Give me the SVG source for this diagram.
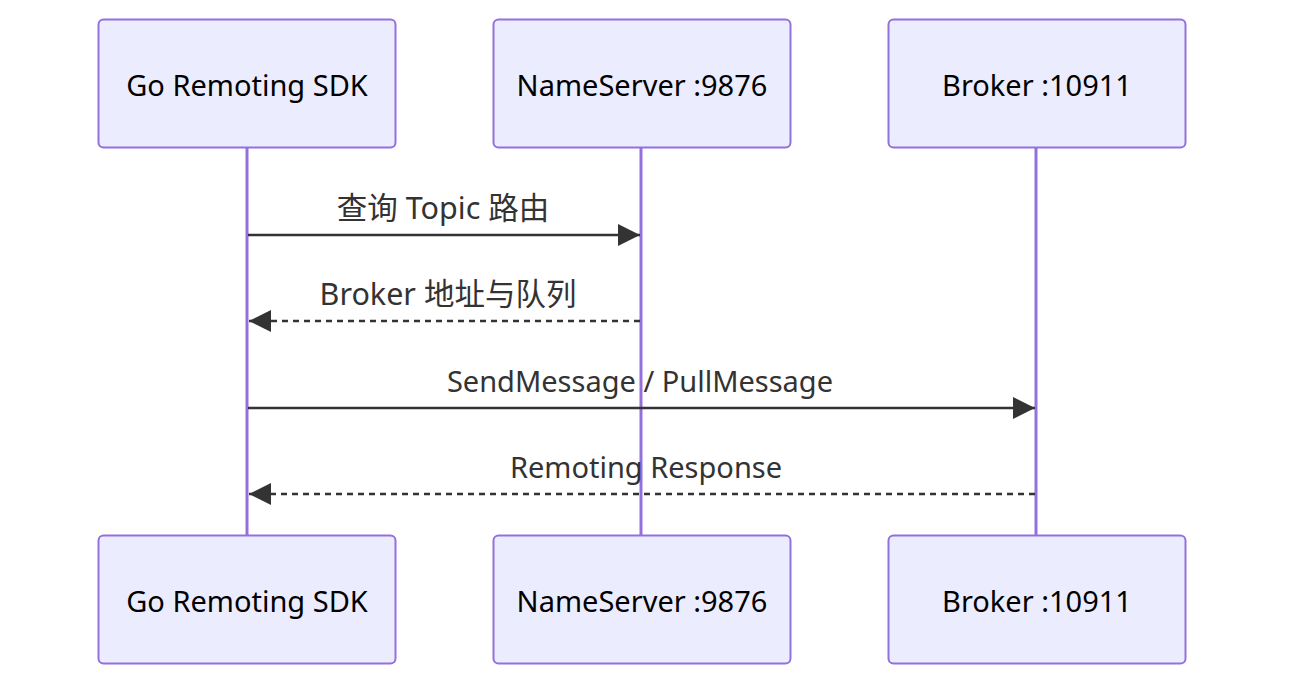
<svg xmlns="http://www.w3.org/2000/svg" width="1300" height="694" viewBox="0 0 1300 694">
<defs>
<style>
.actor{fill:#ECECFF;stroke:#9370DB;stroke-width:2}
.atext{font-family:"Noto Sans","Noto Sans CJK SC",sans-serif;font-size:29px;fill:#000;text-anchor:middle;dominant-baseline:central}
.life{stroke:#9370DB;stroke-width:3}
.msg{stroke:#333;stroke-width:2.5;fill:none}
.dash{stroke-dasharray:6,5}
.mtext{font-family:"Noto Sans","Noto Sans CJK SC",sans-serif;font-size:29px;fill:#333;text-anchor:middle;dominant-baseline:central}
.cjk{font-size:30.5px}
</style>
<marker id="ah" markerWidth="22" markerHeight="22" viewBox="0 0 22 22" refX="22" refY="11" orient="auto" markerUnits="userSpaceOnUse">
<path d="M0,0 L22,11 L0,22 z" fill="#333"/>
</marker>
</defs>
<rect width="1300" height="694" fill="#fff"/>
<g id="lifelines">
<line class="life" x1="247" y1="148" x2="247" y2="535"/>
<line class="life" x1="641" y1="148" x2="641" y2="535"/>
<line class="life" x1="1036" y1="148" x2="1036" y2="535"/>
</g>
<g id="sdk-top"><rect class="actor" x="98.5" y="19.5" width="297" height="128" rx="5"/><text class="atext" x="247" y="84">Go Remoting SDK</text></g>
<g id="ns-top"><rect class="actor" x="493.5" y="19.5" width="297" height="128" rx="5"/><text class="atext" x="642" y="84">NameServer :9876</text></g>
<g id="broker-top"><rect class="actor" x="888.5" y="19.5" width="297" height="128" rx="5"/><text class="atext" x="1037" y="84">Broker :10911</text></g>
<g id="sdk-bottom"><rect class="actor" x="98.5" y="535.5" width="297" height="128" rx="5"/><text class="atext" x="247" y="600">Go Remoting SDK</text></g>
<g id="ns-bottom"><rect class="actor" x="493.5" y="535.5" width="297" height="128" rx="5"/><text class="atext" x="642" y="600">NameServer :9876</text></g>
<g id="broker-bottom"><rect class="actor" x="888.5" y="535.5" width="297" height="128" rx="5"/><text class="atext" x="1037" y="600">Broker :10911</text></g>
<g id="connectors">
<line class="msg" x1="248" y1="235" x2="640" y2="235" marker-end="url(#ah)"/>
<text class="mtext cjk" x="443" y="207">查询 Topic 路由</text>
<line class="msg dash" x1="640" y1="321" x2="249" y2="321" marker-end="url(#ah)"/>
<text class="mtext cjk" x="448" y="293">Broker 地址与队列</text>
<line class="msg" x1="248" y1="408" x2="1035" y2="408" marker-end="url(#ah)"/>
<text class="mtext" x="640" y="380">SendMessage / PullMessage</text>
<line class="msg dash" x1="1035" y1="494" x2="249" y2="494" marker-end="url(#ah)"/>
<text class="mtext" x="646" y="466">Remoting Response</text>
</g>
</svg>
